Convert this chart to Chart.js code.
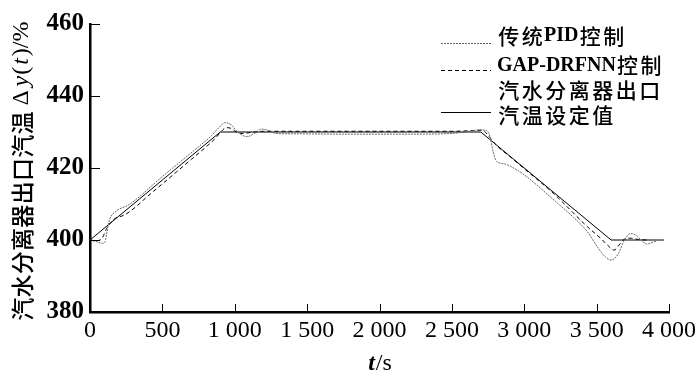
<!DOCTYPE html>
<html><head><meta charset="utf-8">
<script src="https://cdn.jsdelivr.net/npm/chart.js@4/dist/chart.umd.min.js"></script>
<style>html,body{margin:0;padding:0;background:#fff}#wrap{width:700px;height:381px;position:relative}</style>
</head><body><div id="wrap"><canvas id="c" width="700" height="381"></canvas></div>
<script>
// ---- data ----
const xTicks = [0, 500, 1000, 1500, 2000, 2500, 3000, 3500, 4000];
const yTicks = [380, 400, 420, 440, 460];
const seriesNames = ["传统PID控制", "GAP-DRFNN控制", "汽水分离器出口汽温设定值"];

const timePID  = [0, 40, 85, 105, 118, 135, 180, 260, 350, 450, 550, 650, 750, 840, 890, 935, 975, 1020, 1085, 1140, 1185, 1230, 1285, 1400, 1800, 2200, 2500, 2620, 2690, 2740, 2765, 2785, 2810, 2860, 2930, 3000, 3100, 3230, 3340, 3436, 3505, 3560, 3600, 3650, 3690, 3735, 3780, 3815, 3850, 3895, 3910];
const valuePID = [400, 399.6, 399.1, 399.6, 402.5, 405.6, 408.0, 409.6, 412.3, 415.9, 419.3, 422.6, 425.9, 429.0, 431.2, 432.6, 432.0, 430.0, 428.7, 429.7, 430.8, 430.5, 429.6, 429.5, 429.4, 429.4, 429.6, 430.2, 430.6, 430.4, 428.5, 424.5, 421.8, 421.2, 419.9, 418.1, 414.8, 410.2, 406.3, 402.3, 398.1, 395.3, 394.4, 396.2, 399.8, 401.8, 401.1, 399.6, 398.9, 399.5, 399.6];

const timeGAP  = [0, 40, 80, 115, 160, 240, 310, 400, 500, 600, 700, 800, 870, 910, 940, 975, 1010, 1050, 1120, 1200, 1400, 2000, 2500, 2650, 2710, 2760, 2800, 2850, 2900, 3000, 3200, 3436, 3527, 3575, 3620, 3665, 3690, 3740, 3790, 3850];
const valueGAP = [400, 399.8, 400.3, 403.2, 405.6, 407.0, 409.0, 412.2, 415.6, 419.0, 422.4, 425.8, 428.4, 430.3, 431.2, 431.0, 430.0, 429.6, 429.9, 430.2, 430.2, 430.2, 430.2, 430.4, 430.5, 428.6, 426.6, 424.8, 423.2, 419.8, 413.0, 403.7, 400.5, 398.6, 397.2, 399.1, 400.2, 400.5, 400.1, 400];

const timeSet  = [0, 900, 2700, 3600, 3965];
const valueSet = [400, 430, 430, 400, 400];

// ---- helpers ----
const pts = (ts, vs) => ts.map((t, i) => ({x: t, y: vs[i]}));
const SERIF = '"Liberation Serif", "Times New Roman", serif';
const CJK = '"Noto Sans CJK SC", sans-serif';
const isCJK = ch => /[\u3000-\u9fff\uff00-\uffef]/.test(ch);

function drawMixed(ctx, text, x, y, latinFont, cjkFont, cjkAdv, extra) {
  let cx = x;
  for (const ch of text) {
    if (isCJK(ch)) {
      ctx.font = cjkFont;
      const w = ctx.measureText(ch).width;
      ctx.fillText(ch, cx + (cjkAdv - w) / 2, y);
      cx += cjkAdv;
    } else {
      ctx.font = latinFont;
      ctx.fillText(ch, cx, y);
      cx += ctx.measureText(ch).width + (extra || 0);
    }
  }
  return cx;
}

const decor = {
  id: 'decor',
  afterDraw(chart) {
    const ctx = chart.ctx, ca = chart.chartArea;
    const xs = chart.scales.x, ys = chart.scales.y;
    ctx.save();
    // inward tick marks
    ctx.strokeStyle = '#000'; ctx.lineWidth = 1;
    xs.ticks.forEach(t => {
      const px = Math.round(xs.getPixelForValue(t.value)) + 0.5;
      ctx.beginPath(); ctx.moveTo(px, ca.bottom); ctx.lineTo(px, ca.bottom - 8); ctx.stroke();
    });
    ys.ticks.forEach(t => {
      const py = Math.round(ys.getPixelForValue(t.value)) + 0.5;
      ctx.beginPath(); ctx.moveTo(ca.left, py); ctx.lineTo(ca.left + 10, py); ctx.stroke();
    });

    ctx.fillStyle = '#000';
    ctx.textBaseline = 'middle'; ctx.textAlign = 'left';
    // x title  t/s
    ctx.font = 'italic bold 24px ' + SERIF;
    const tw = ctx.measureText('t').width;
    ctx.font = '24px ' + SERIF;
    const sw = ctx.measureText('/s').width;
    let sx = (ca.left + ca.right) / 2 - (tw + sw) / 2;
    ctx.font = 'italic bold 24px ' + SERIF; ctx.fillText('t', sx, 364);
    ctx.font = '24px ' + SERIF; ctx.fillText('/s', sx + tw + 1, 364);

    // y title rotated
    ctx.save();
    ctx.translate(22, 321);
    ctx.rotate(-Math.PI / 2);
    let p = drawMixed(ctx, '汽水分离器出口汽温', 0, 0, '23px ' + SERIF, '500 23px ' + CJK, 23.3);
    p += 6;
    ctx.font = '23px ' + SERIF; ctx.fillText('Δ', p, 0); p += ctx.measureText('Δ').width + 4;
    ctx.font = 'italic 24px ' + SERIF; ctx.fillText('y', p, 0); p += ctx.measureText('y').width + 1;
    ctx.font = '24px ' + SERIF; ctx.fillText('(', p, 0); p += ctx.measureText('(').width + 2;
    ctx.font = 'italic 24px ' + SERIF; ctx.fillText('t', p, 0); p += ctx.measureText('t').width + 2;
    ctx.font = '24px ' + SERIF; ctx.fillText(')/%', p, 0);
    ctx.restore();

    // legend
    const ds = chart.data.datasets;
    const lx0 = 441, lx1 = 491, tx = 497;
    const rows = [
      {line: 43, texts: [[seriesNames[0], 36]], d: ds[0]},
      {line: 70, texts: [[seriesNames[1], 65.5]], d: ds[1]},
      {line: 112, texts: [['汽水分离器出口', 90], ['汽温设定值', 115]], d: ds[2]}
    ];
    rows.forEach(r => {
      ctx.save();
      ctx.strokeStyle = r.d.borderColor; ctx.lineWidth = r.d.borderWidth;
      ctx.setLineDash(r.d.borderDash || []);
      ctx.beginPath(); ctx.moveTo(lx0, r.line + 0.5); ctx.lineTo(lx1, r.line + 0.5); ctx.stroke();
      ctx.restore();
      r.texts.forEach(([s, y]) => drawMixed(ctx, s, tx, y, 'bold 20px ' + SERIF, '500 21px ' + CJK, 23.5));
    });
    ctx.restore();
  }
};

const fmt = v => v >= 1000 ? Math.floor(v / 1000) + ' ' + String(v % 1000).padStart(3, '0') : String(v);

new Chart(document.getElementById('c'), {
  type: 'line',
  data: {
    datasets: [
      {label: seriesNames[0], data: pts(timePID, valuePID), borderColor: '#666', borderWidth: 1, borderDash: [2, 1], pointRadius: 0, cubicInterpolationMode: 'monotone', fill: false},
      {label: seriesNames[1], data: pts(timeGAP, valueGAP), borderColor: '#000', borderWidth: 1, borderDash: [4, 3], pointRadius: 0, cubicInterpolationMode: 'monotone', fill: false},
      {label: seriesNames[2], data: pts(timeSet, valueSet), borderColor: '#000', borderWidth: 1, pointRadius: 0, tension: 0, fill: false}
    ]
  },
  options: {
    responsive: false, animation: false, devicePixelRatio: 1,
    layout: {padding: {top: 24, right: 28, left: 0, bottom: 0}},
    plugins: {legend: {display: false}, tooltip: {enabled: false}},
    scales: {
      x: {
        type: 'linear', min: 0, max: 4000,
        afterBuildTicks: s => { s.ticks = xTicks.map(v => ({value: v})); },
        afterFit: s => { s.height = 69; },
        grid: {display: false, drawTicks: false},
        border: {display: true, color: '#000', width: 2.5},
        ticks: {color: '#000', padding: 4, maxRotation: 0, autoSkip: false, font: {family: SERIF, size: 24}, callback: fmt}
      },
      y: {
        type: 'linear', min: 380, max: 460,
        afterBuildTicks: s => { s.ticks = yTicks.map(v => ({value: v})); },
        afterFit: s => { s.width = 90; },
        grid: {display: false, drawTicks: false},
        border: {display: true, color: '#000', width: 2.5},
        ticks: {color: '#000', padding: 6, font: {family: SERIF, size: 25, weight: 'bold'}, callback: v => String(v)}
      }
    }
  },
  plugins: [decor]
});
</script></body></html>
